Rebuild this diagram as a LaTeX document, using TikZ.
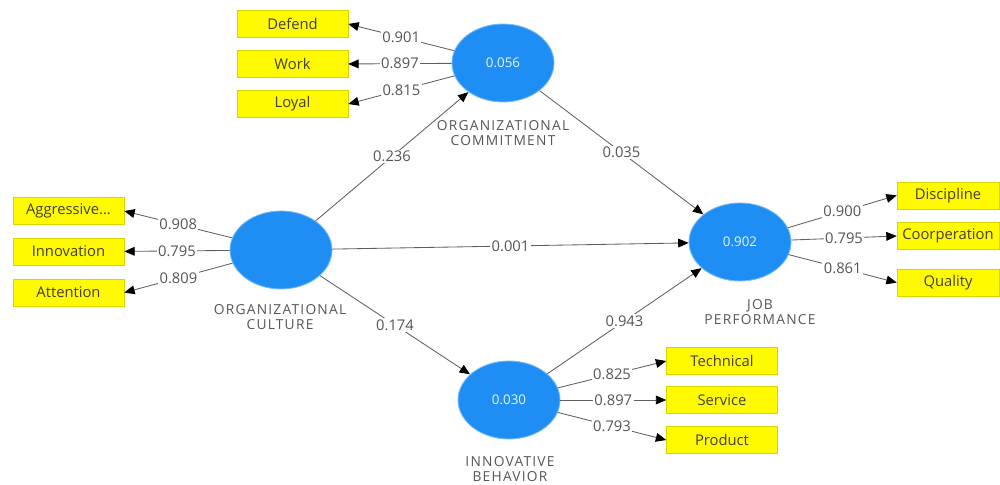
\documentclass[tikz,border=0pt]{standalone}
\usepackage{fontspec}
\setmainfont{Open Sans}
\newfontfamily\capsfont[LetterSpace=9]{Open Sans}
\usetikzlibrary{arrows.meta}
\usetikzlibrary{shapes.geometric}
\definecolor{lvblue}{RGB}{30,142,245}
\definecolor{boxyellow}{RGB}{255,250,0}
\definecolor{txtgray}{RGB}{85,85,85}
\definecolor{linegray}{RGB}{95,95,95}
\tikzset{
  latent/.style={ellipse, fill=lvblue, draw=lvblue!60, line width=0.6pt, text=white!90!lvblue,
    minimum width=2.55cm, minimum height=1.95cm, inner sep=0pt, font=\fontsize{9.5}{11}\selectfont},
  indic/.style={rectangle, fill=boxyellow, draw=boxyellow!85!black, line width=0.4pt,
    minimum width=2.775cm, minimum height=0.68cm, inner sep=0pt, text=black!70!olive,
    font=\fontsize{10.5}{12}\selectfont},
  lvname/.style={align=center, text=txtgray, font=\capsfont\fontsize{9.8}{10.8}\selectfont},
  coef/.style={fill=white, inner sep=1pt, text=txtgray, font=\fontsize{10.5}{12}\selectfont},
  relpath/.style={draw=linegray, line width=0.6pt, -{Triangle[length=2.6mm,width=2.2mm,color=black]}},
}
\begin{document}
\begin{tikzpicture}
    \useasboundingbox (0,0) rectangle (25,12.125);
    % latent variables
    \node[latent] (oc) at (7.025,5.875) {};
    \node[latent] (ocm) at (12.575,10.55) {0.056};
    \node[latent] (jp) at (18.5,6.075) {0.902};
    \node[latent] (ib) at (12.725,2.125) {0.030};
    % names
    \node[lvname] (ocn) at (7.0,4.2) {ORGANIZATIONAL\\CULTURE};
    \node[lvname] (ocmn) at (12.575,8.8) {ORGANIZATIONAL\\COMMITMENT};
    \node[lvname] (jpn) at (19.0,4.325) {JOB\\PERFORMANCE};
    \node[lvname] (ibn) at (12.75,0.4) {INNOVATIVE\\BEHAVIOR};
    % indicators culture
    \node[indic] (agg) at (1.7125,6.85) {Aggressive...};
    \node[indic] (inn) at (1.7125,5.84) {Innovation};
    \node[indic] (att) at (1.7125,4.81) {Attention};
    % indicators commitment
    \node[indic] (def) at (7.3125,11.525) {Defend};
    \node[indic] (wrk) at (7.3125,10.525) {Work};
    \node[indic] (loy) at (7.3125,9.525) {Loyal};
    % indicators performance
    \node[indic, minimum width=2.55cm] (dis) at (23.7,7.24) {Discipline};
    \node[indic, minimum width=2.55cm] (coo) at (23.7,6.225) {Coorperation};
    \node[indic, minimum width=2.55cm] (qua) at (23.7,5.06) {Quality};
    % indicators behavior
    \node[indic] (tec) at (18.05,3.1) {Technical};
    \node[indic] (ser) at (18.05,2.125) {Service};
    \node[indic] (pro) at (18.05,1.125) {Product};
    % outer model
    \draw[relpath] (oc) -- node[coef] {0.908} (agg.east);
    \draw[relpath] (oc) -- node[coef] {0.795} (inn.east);
    \draw[relpath] (oc) -- node[coef] {0.809} (att.east);
    \draw[relpath] (ocm) -- node[coef] {0.901} (def.east);
    \draw[relpath] (ocm) -- node[coef] {0.897} (wrk.east);
    \draw[relpath] (ocm) -- node[coef] {0.815} (loy.east);
    \draw[relpath] (jp) -- node[coef] {0.900} (dis.west);
    \draw[relpath] (jp) -- node[coef] {0.795} (coo.west);
    \draw[relpath] (jp) -- node[coef] {0.861} (qua.west);
    \draw[relpath] (ib) -- node[coef] {0.825} (tec.west);
    \draw[relpath] (ib) -- node[coef] {0.897} (ser.west);
    \draw[relpath] (ib) -- node[coef] {0.793} (pro.west);
    % inner model
    \draw[relpath] (oc) -- node[coef] {0.236} (ocm);
    \draw[relpath] (ocm) -- node[coef] {0.035} (jp);
    \draw[relpath] (oc) -- node[coef] {0.001} (jp);
    \draw[relpath] (oc) -- node[coef] {0.174} (ib);
    \draw[relpath] (ib) -- node[coef] {0.943} (jp);
\end{tikzpicture}
\end{document}
